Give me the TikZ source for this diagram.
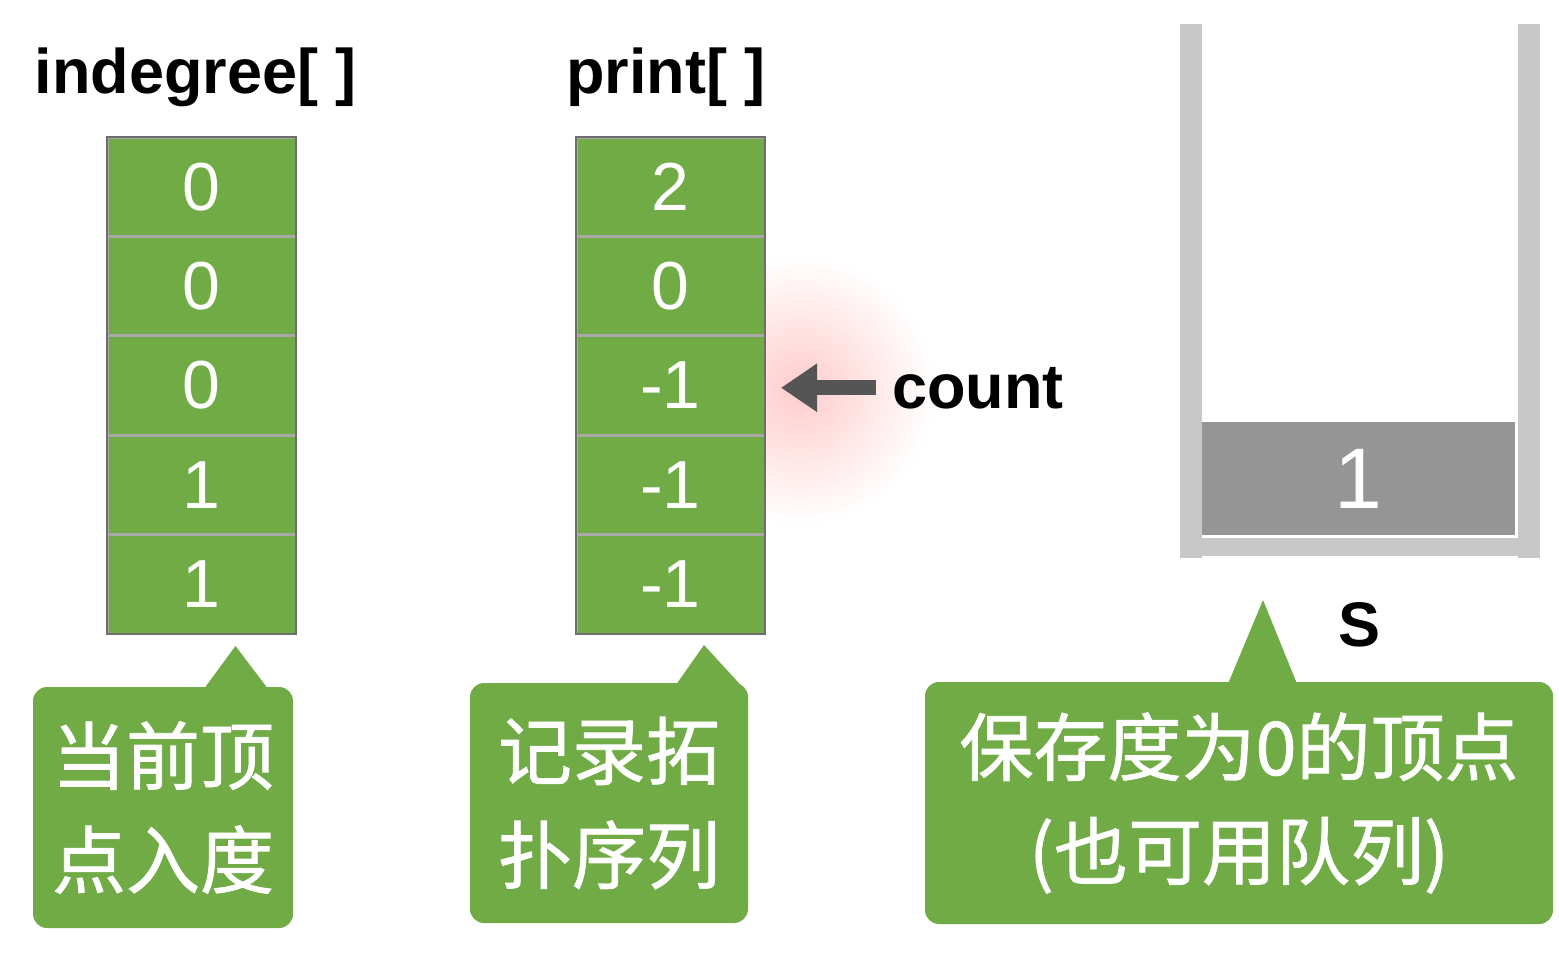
\documentclass[tikz,border=0pt]{standalone}
\usepackage{fontspec}
\setmainfont{Liberation Sans}
\newfontfamily\cjk{Noto Sans CJK SC}[FakeBold=1]
\usetikzlibrary{arrows.meta, positioning, calc}
\definecolor{cellgreen}{RGB}{112,171,70}
\definecolor{rimgray}{RGB}{110,110,110}
\definecolor{seamgray}{RGB}{168,168,168}
\definecolor{wallgray}{RGB}{200,200,200}
\definecolor{itemgray}{RGB}{149,149,149}
\definecolor{arrowgray}{RGB}{85,85,85}
\tikzset{
  cell/.style={rectangle, draw=seamgray, line width=1.5pt, fill=cellgreen,
    minimum width=187.5pt, minimum height=97.9pt, inner sep=0pt, text=white,
    font=\fontsize{68}{68}\selectfont},
  rim/.style={draw=rimgray, line width=2pt},
  title/.style={font=\bfseries\fontsize{63}{63}\selectfont, inner sep=0pt, anchor=base},
  tag/.style={rectangle, fill=cellgreen, rounded corners=14pt, align=center,
    inner sep=0pt, text=white, font=\cjk\fontsize{74}{104}\selectfont},
  tagtip/.style={fill=cellgreen},
  wall/.style={fill=wallgray},
  item/.style={rectangle, fill=itemgray, minimum width=313pt, minimum height=113pt,
    inner sep=0pt, text=white, font=\fontsize{86}{86}\selectfont},
  ptr/.style={-{Triangle[length=36pt, width=46pt]}, line width=15pt, arrowgray},
}
\begin{document}
\begin{tikzpicture}[x=1pt, y=-1pt]
\useasboundingbox (0,0) rectangle (1559,959);
\fill[white] (0,0) rectangle (1559,959);

% glow round the count arrow
\shade[inner color=red!20, outer color=white] (800,390) circle (135pt);

% indegree[]
\node[title] (intitle) at (196,93) {indegree[ ]};
\node[cell] (in1) at (201.5,186.7) {0};
\node[cell, below=0pt of in1] (in2) {0};
\node[cell, below=0pt of in2] (in3) {0};
\node[cell, below=0pt of in3] (in4) {1};
\node[cell, below=0pt of in4] (in5) {1};
\draw[rim] (in1.north west) rectangle (in5.south east);

% print[]
\node[title] (prtitle) at (666,93) {print[ ]};
\node[cell] (pr1) at (670.5,186.7) {2};
\node[cell, below=0pt of pr1] (pr2) {0};
\node[cell, below=0pt of pr2] (pr3) {-1};
\node[cell, below=0pt of pr3] (pr4) {-1};
\node[cell, below=0pt of pr4] (pr5) {-1};
\draw[rim] (pr1.north west) rectangle (pr5.south east);

% count pointer
\node[title, anchor=base west] (countlbl) at (892,408) {count};
\draw[ptr] ([xshift=-16pt]countlbl.west) -- ([xshift=16pt]countlbl.west -| pr3.east);

% stack S
\fill[wall] (1180,24) rectangle (1202,558);
\fill[wall] (1518,24) rectangle (1540,558);
\fill[wall] (1202,538) rectangle (1518,556);
\node[item] (top) at (1358.5,478.5) {1};
\node[title] (slbl) at (1359,646) {S};

% callouts
\node[tag, minimum width=260pt, minimum height=241pt] (tagin) at (163,807.5) {当前顶\\点入度};
\node[tag, minimum width=278pt, minimum height=240pt] (tagpr) at (609,803) {记录拓\\扑序列};
\node[tag, minimum width=628pt, minimum height=242pt] (tagst) at (1239,803) {保存度为0的顶点\\(也可用队列)};

\coordinate (tipin) at ([xshift=34pt, yshift=-12pt]in5.south);
\coordinate (tippr) at ([xshift=33.5pt, yshift=-11pt]pr5.south);
\coordinate (tipst) at (1263,600);
\fill[tagtip] ([xshift=41pt, yshift=-2pt]tagin.north) -- (tipin) -- ([xshift=105pt, yshift=-2pt]tagin.north) -- cycle;
\fill[tagtip] ([xshift=67pt, yshift=-2pt]tagpr.north) -- (tippr) -- ([xshift=136pt, yshift=-7pt]tagpr.north) -- cycle;
\fill[tagtip] ([xshift=-11pt, yshift=-2pt]tagst.north) -- (tipst) -- ([xshift=58pt, yshift=-2pt]tagst.north) -- cycle;

\end{tikzpicture}
\end{document}
